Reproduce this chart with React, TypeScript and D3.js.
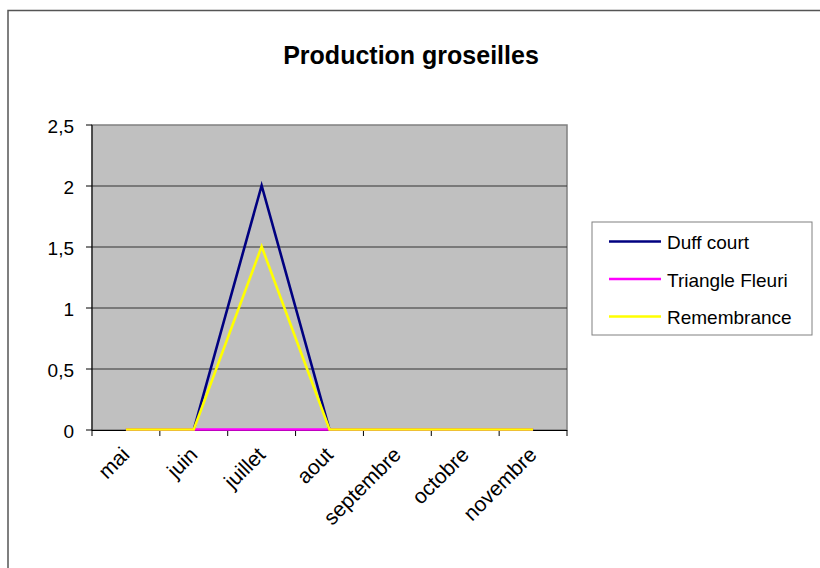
import * as d3 from 'd3';

const months = ['mai', 'juin', 'juillet', 'aout', 'septembre', 'octobre', 'novembre'];
const duffCourt = [0, 0, 2, 0, 0, 0, 0];
const triangleFleuri = [0, 0, 0, 0, 0, 0, 0];
const remembrance = [0, 0, 1.5, 0, 0, 0, 0];
const yTicks = [0, 0.5, 1, 1.5, 2, 2.5];

const series = [
  { name: 'Duff court', values: duffCourt, color: '#000080' },
  { name: 'Triangle Fleuri', values: triangleFleuri, color: '#FF00FF' },
  { name: 'Remembrance', values: remembrance, color: '#FFFF00' },
];

const width = 820;
const height = 568;
const plot = { left: 92, right: 567, top: 125, bottom: 430 };
const font = 'Liberation Sans, Arial, sans-serif';

const App = () => {
  const xScale = d3.scaleBand<string>().domain(months).range([plot.left, plot.right]);
  const yScale = d3.scaleLinear().domain([0, 2.5]).range([plot.bottom, plot.top]);
  const fmt = (v: number) => String(v).replace('.', ',');

  const line = d3
    .line<number>()
    .x((_, i) => (xScale(months[i]) || 0) + xScale.bandwidth() / 2)
    .y(d => yScale(d) - 0.5);

  const legend = { x: 592, y: 222, w: 220, h: 113 };

  return (
    <svg
      width={width}
      height={height}
      viewBox={`0 0 ${width} ${height}`}
      style={{ position: 'absolute', left: 0, top: 0, background: '#fff' }}
    >
      <rect x={8} y={10.5} width={900} height={700} fill="#fff" stroke="#555" strokeWidth={1.5} />
      <text
        x={411}
        y={64}
        textAnchor="middle"
        fontFamily={font}
        fontWeight="bold"
        fontSize={25}
      >
        Production groseilles
      </text>

      <rect
        x={plot.left}
        y={plot.top}
        width={plot.right - plot.left}
        height={plot.bottom - plot.top}
        fill="#C0C0C0"
        stroke="#808080"
        strokeWidth={1.5}
      />
      {yTicks.slice(1, -1).map(t => (
        <line
          key={t}
          x1={plot.left}
          x2={plot.right}
          y1={yScale(t)}
          y2={yScale(t)}
          stroke="#333"
          strokeWidth={1}
        />
      ))}

      {/* y axis */}
      <line x1={plot.left} x2={plot.left} y1={plot.top} y2={plot.bottom} stroke="#000" strokeWidth={1} />
      {yTicks.map(t => (
        <g key={t}>
          <line x1={plot.left - 6} x2={plot.left} y1={yScale(t)} y2={yScale(t)} stroke="#000" />
          <text
            x={plot.left - 18}
            y={yScale(t) + 1}
            textAnchor="end"
            dominantBaseline="central"
            fontFamily={font}
            fontSize={19}
          >
            {fmt(t)}
          </text>
        </g>
      ))}

      {/* x axis */}
      <line x1={plot.left} x2={plot.right} y1={plot.bottom + 0.5} y2={plot.bottom + 0.5} stroke="#000" strokeWidth={1} />
      {[...months.map(m => xScale(m) || 0), plot.right].map((x, i) => (
        <line key={i} x1={x} x2={x} y1={plot.bottom} y2={plot.bottom + 6} stroke="#000" />
      ))}
      {months.map(m => {
        const cx = (xScale(m) || 0) + xScale.bandwidth() / 2 + 5;
        const cy = plot.bottom + 26;
        return (
          <text
            key={m}
            x={cx}
            y={cy}
            textAnchor="end"
            fontFamily={font}
            fontSize={21}
            transform={`rotate(-45, ${cx}, ${cy})`}
          >
            {m}
          </text>
        );
      })}

      {series.map(s => (
        <path key={s.name} d={line(s.values) || ''} fill="none" stroke={s.color} strokeWidth={2.6} />
      ))}

      {/* legend */}
      <rect x={legend.x} y={legend.y} width={legend.w} height={legend.h} fill="#fff" stroke="#808080" strokeWidth={1} />
      {series.map((s, i) => {
        const y = legend.y + 19.5 + i * 37.5;
        return (
          <g key={s.name}>
            <line x1={609} x2={661} y1={y} y2={y} stroke={s.color} strokeWidth={2.6} />
            <text x={667} y={y + 1} dominantBaseline="central" fontFamily={font} fontSize={19}>
              {s.name}
            </text>
          </g>
        );
      })}
    </svg>
  );
};

export default App;
